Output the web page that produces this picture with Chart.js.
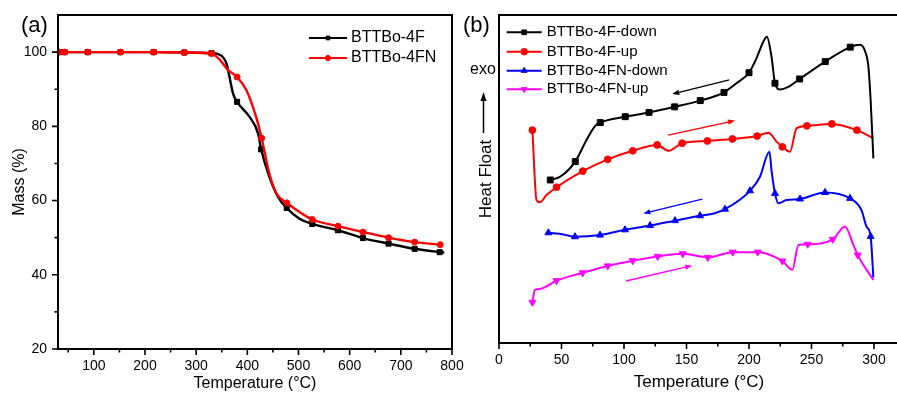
<!DOCTYPE html>
<html>
<head>
<meta charset="utf-8">
<script src="https://cdn.jsdelivr.net/npm/chart.js"></script>
<style>
  html, body { margin: 0; padding: 0; background: #fff; overflow: hidden; width: 897px; height: 394px; }
  canvas { position: absolute; top: 0; }
  #tga { left: 0; }
  #dsc { left: 440px; }
</style>
</head>
<body>
<canvas id="tga" width="470" height="394"></canvas>
<canvas id="dsc" width="460" height="394"></canvas>
<script>
// (a) TGA, mass (%) against temperature (°C); dots = 1 where a marker is drawn
const tgaTemp4F = [33, 43, 88, 152, 217, 277, 330, 346, 359, 365, 372, 380, 404, 421, 427, 443, 460, 477, 502, 527, 577, 626, 676, 727, 776, 785];
const tgaMass4F = [100, 100, 100, 100, 100, 99.9, 99.7, 99.3, 97.0, 93.4, 88.9, 86.6, 82.6, 78.1, 73.8, 66.4, 61.0, 58.0, 55.1, 53.7, 52.0, 49.9, 48.4, 47.0, 46.1, 46.0];
const tgaDots4F = [1, 1, 1, 1, 1, 1, 1, 0, 0, 0, 0, 1, 0, 0, 1, 0, 0, 1, 0, 1, 1, 1, 1, 1, 1, 0];

const tgaTemp4FN = [33, 43, 88, 152, 217, 277, 330, 346, 362, 380, 398, 417, 428, 443, 457, 477, 502, 527, 577, 626, 676, 727, 777];
const tgaMass4FN = [100, 100, 100, 100, 100, 99.9, 99.6, 98.0, 95.2, 93.3, 89.8, 82.6, 76.8, 67.3, 61.9, 59.4, 56.9, 54.9, 53.1, 51.5, 50.0, 48.8, 48.1];
const tgaDots4FN = [1, 1, 1, 1, 1, 1, 1, 0, 0, 1, 0, 0, 1, 0, 0, 1, 0, 1, 1, 1, 1, 1, 1];

const tgaXMajor = [100, 200, 300, 400, 500, 600, 700, 800];
const tgaXMinor = [50, 150, 250, 350, 450, 550, 650, 750];
const tgaYMajor = [20, 40, 60, 80, 100];
const tgaYMinor = [30, 50, 70, 90];

// (b) DSC, heat flow in arbitrary units against temperature (°C)
const dscTemp4FDown = [41, 49, 61, 70, 77, 81, 101, 120, 140.5, 161, 180, 190, 200, 206, 211.5, 214.3, 218, 220.8, 225, 231, 240.5, 261, 281, 289, 293, 295.5, 297.3, 299.5];
const dscHeat4FDown = [49.7, 50.7, 55.3, 61.9, 66.2, 67.2, 69.0, 70.3, 72.0, 73.9, 76.4, 79.2, 82.4, 86.8, 91.9, 93.4, 87.3, 79.2, 77.3, 78.0, 80.5, 85.8, 90.2, 90.9, 88.8, 84.3, 74.1, 56.3];
const dscDots4FDown = [1, 0, 1, 0, 0, 1, 1, 1, 1, 1, 1, 0, 1, 0, 0, 0, 0, 1, 0, 0, 1, 1, 1, 0, 0, 0, 0, 0];

const dscTemp4FUp = [26.7, 30, 32.8, 38, 46, 67, 87, 107, 126.5, 135.6, 146.5, 166.7, 186.7, 206.5, 215.5, 222, 226.7, 232.8, 238.1, 246.3, 266.3, 286.3, 299.5];
const dscHeat4FUp = [64.9, 43.6, 42.9, 45.1, 47.5, 52.4, 56.0, 58.6, 60.4, 58.6, 60.9, 61.6, 62.2, 63.1, 64.1, 61.4, 59.8, 58.3, 65.5, 66.2, 66.8, 64.9, 62.4];
const dscDots4FUp = [1, 0, 0, 0, 1, 1, 1, 1, 1, 0, 1, 1, 1, 1, 0, 0, 1, 0, 0, 1, 1, 1, 0];

const dscTemp4FNDown = [39.5, 51.5, 60.8, 80.8, 100.8, 120.8, 140.8, 160.8, 172, 180.8, 200.8, 208.8, 216.3, 218.2, 220.8, 223.5, 230, 240.8, 260.8, 280.8, 290, 294, 297.3, 299.5];
const dscHeat4FNDown = [33.6, 33.1, 32.4, 32.9, 34.5, 35.8, 37.3, 38.8, 39.5, 40.8, 46.4, 50.7, 58.3, 52.0, 45.6, 42.6, 43.6, 43.9, 45.9, 44.1, 40.5, 35.5, 32.5, 20];
const dscDots4FNDown = [1, 0, 1, 1, 1, 1, 1, 1, 0, 1, 1, 0, 0, 0, 1, 0, 0, 1, 1, 1, 0, 0, 1, 0];

const dscTemp4FNUp = [26.7, 28.8, 32.8, 46, 67, 87, 107, 127, 147, 167, 187, 207, 226.7, 234.7, 239.5, 247, 267, 276.8, 283.5, 287, 299.5];
const dscHeat4FNUp = [12.4, 16.2, 16.5, 19.0, 21.4, 23.5, 25.1, 26.4, 27.2, 26.1, 27.7, 27.7, 25.0, 22.3, 29.9, 30.1, 31.6, 35.5, 29.9, 26.8, 19.2];
const dscDotsFNUp = [1, 0, 0, 1, 1, 1, 1, 1, 1, 1, 1, 1, 1, 0, 0, 1, 1, 0, 0, 1, 0];

const dscXMajor = [0, 50, 100, 150, 200, 250, 300];
const dscXMinor = [25, 75, 125, 175, 225, 275];

// scan direction arrows [fromT, fromH, toT, toH], one per series
const dscArrows = [[184.2, 80.2, 138.6, 75.9], [135.4, 63.4, 188.8, 67.8], [162.6, 43.9, 115.4, 39.5], [101.6, 18.9, 154.6, 23.6]];

const FONT = '"Liberation Sans", Arial, sans-serif';

function series(label, xs, ys, dots, color, style, r, rot, order, w) {
  return {
    label: label,
    data: xs.map((x, i) => ({ x: x, y: ys[i] })),
    borderColor: color,
    backgroundColor: color,
    borderWidth: w,
    pointStyle: style,
    pointRotation: rot,
    pointRadius: dots.map(d => d ? r : 0),
    pointHoverRadius: 0,
    pointBorderWidth: 1,
    cubicInterpolationMode: 'monotone',
    fill: false,
    order: order
  };
}

function arrow(ctx, x1, y1, x2, y2, color, w, head, half) {
  const a = Math.atan2(y2 - y1, x2 - x1);
  const bx = x2 - Math.cos(a) * head, by = y2 - Math.sin(a) * head;
  ctx.strokeStyle = color; ctx.fillStyle = color; ctx.lineWidth = w;
  ctx.beginPath(); ctx.moveTo(x1, y1); ctx.lineTo(bx, by); ctx.stroke();
  ctx.beginPath(); ctx.moveTo(x2, y2);
  ctx.lineTo(bx + Math.sin(a) * half, by - Math.cos(a) * half);
  ctx.lineTo(bx - Math.sin(a) * half, by + Math.cos(a) * half);
  ctx.closePath(); ctx.fill();
}

// box, outward major/minor ticks, legend
function framePlugin(minorX, minorY, legend) {
  return {
    id: 'frame',
    afterDatasetsDraw(chart) {
      const { ctx, chartArea: a, scales: { x, y } } = chart;
      ctx.save();
      ctx.strokeStyle = '#000';
      ctx.lineWidth = 2;
      ctx.strokeRect(a.left, a.top, a.right - a.left, a.bottom - a.top);
      ctx.lineWidth = 1.6;
      ctx.beginPath();
      x.ticks.forEach(t => { const p = x.getPixelForValue(t.value); ctx.moveTo(p, a.bottom); ctx.lineTo(p, a.bottom + 6); });
      minorX.forEach(v => { const p = x.getPixelForValue(v); ctx.moveTo(p, a.bottom); ctx.lineTo(p, a.bottom + 3.5); });
      if (minorY) {
        y.ticks.forEach(t => { const p = y.getPixelForValue(t.value); ctx.moveTo(a.left, p); ctx.lineTo(a.left - 6, p); });
        minorY.forEach(v => { const p = y.getPixelForValue(v); ctx.moveTo(a.left, p); ctx.lineTo(a.left - 3.5, p); });
      }
      ctx.stroke();

      chart.data.datasets.forEach((ds, i) => {
        const yy = legend.rows[i];
        ctx.strokeStyle = ds.borderColor; ctx.lineWidth = 2;
        ctx.beginPath(); ctx.moveTo(legend.x0, yy); ctx.lineTo(legend.x1, yy); ctx.stroke();
        ctx.fillStyle = ds.borderColor; ctx.lineWidth = 1;
        Chart.helpers.drawPoint(ctx, { pointStyle: ds.pointStyle, radius: legend.r, rotation: ds.pointRotation, borderWidth: 1 }, (legend.x0 + legend.x1) / 2, yy);
        ctx.fillStyle = '#000';
        ctx.font = legend.font;
        ctx.textBaseline = 'middle';
        ctx.textAlign = 'left';
        ctx.fillText(ds.label, legend.tx, yy);
      });
      ctx.font = '22px ' + FONT;
      ctx.fillText(legend.panel, legend.px, 26);
      ctx.restore();
    }
  };
}

const dscExtras = {
  id: 'dscExtras',
  afterDatasetsDraw(chart) {
    const { ctx, scales: { x, y } } = chart;
    ctx.save();
    dscArrows.forEach((a, i) => {
      arrow(ctx, x.getPixelForValue(a[0]), y.getPixelForValue(a[1]), x.getPixelForValue(a[2]), y.getPixelForValue(a[3]),
        chart.data.datasets[i].borderColor, 1.3, 7, 2.6);
    });
    arrow(ctx, 43.5, 133, 43.5, 92, '#000', 1.5, 9, 3);
    ctx.fillStyle = '#000';
    ctx.font = '16px ' + FONT;
    ctx.textBaseline = 'middle';
    ctx.fillText('exo', 30, 70);
    ctx.restore();
  }
};

function xAxis(min, max, major, height, titleSize, titlePad) {
  return {
    type: 'linear', min: min, max: max,
    afterBuildTicks: s => { s.ticks = major.map(v => ({ value: v })); },
    afterFit: s => { s.height = height; s.paddingLeft = 0; s.paddingRight = 0; },
    grid: { display: false, drawTicks: false },
    border: { display: false },
    ticks: { color: '#000', font: { family: FONT, size: 14 }, padding: 9, maxRotation: 0, autoSkip: false },
    title: { display: true, text: 'Temperature (°C)', color: '#000', font: { family: FONT, size: titleSize }, padding: { top: 0, bottom: titlePad } }
  };
}

new Chart(document.getElementById('tga'), {
  type: 'line',
  data: {
    datasets: [
      series('BTTBo-4F', tgaTemp4F, tgaMass4F, tgaDots4F, '#000000', 'rect', 3.6, 0, 1, 2.4),
      series('BTTBo-4FN', tgaTemp4FN, tgaMass4FN, tgaDots4FN, '#ff0000', 'circle', 3, 0, 0, 2.4)
    ]
  },
  options: {
    responsive: false, animation: false, events: [],
    layout: { autoPadding: false, padding: { top: 15, right: 18, bottom: 0, left: 0 } },
    plugins: { legend: { display: false }, tooltip: { enabled: false } },
    scales: {
      x: xAxis(30, 800, tgaXMajor, 45, 16, 1),
      y: {
        min: 20, max: 110,
        afterBuildTicks: s => { s.ticks = tgaYMajor.map(v => ({ value: v })); },
        afterFit: s => { s.width = 58; s.paddingTop = 0; s.paddingBottom = 0; },
        grid: { display: false, drawTicks: false },
        border: { display: false },
        ticks: { color: '#000', font: { family: FONT, size: 14 }, padding: 11 },
        title: { display: true, text: 'Mass (%)', color: '#000', font: { family: FONT, size: 16 }, padding: { top: 10, bottom: 0 } }
      }
    }
  },
  plugins: [framePlugin(tgaXMinor, tgaYMinor, { rows: [38, 58], x0: 309, x1: 347, tx: 351, r: 2.6, font: '16px ' + FONT, panel: '(a)', px: 21 })]
});

new Chart(document.getElementById('dsc'), {
  type: 'line',
  data: {
    datasets: [
      series('BTTBo-4F-down', dscTemp4FDown, dscHeat4FDown, dscDots4FDown, '#000000', 'rect', 4.2, 0, 0, 2),
      series('BTTBo-4F-up', dscTemp4FUp, dscHeat4FUp, dscDots4FUp, '#ff0000', 'circle', 3.4, 0, 1, 2),
      series('BTTBo-4FN-down', dscTemp4FNDown, dscHeat4FNDown, dscDots4FNDown, '#0000ff', 'triangle', 4, 0, 2, 2),
      series('BTTBo-4FN-up', dscTemp4FNUp, dscHeat4FNUp, dscDotsFNUp, '#ff00ff', 'triangle', 4, 180, 3, 2)
    ]
  },
  options: {
    responsive: false, animation: false, events: [],
    layout: { autoPadding: false, padding: { top: 15, right: 1, bottom: 0, left: 0 } },
    plugins: { legend: { display: false }, tooltip: { enabled: false } },
    scales: {
      x: xAxis(0, 320, dscXMajor, 51, 17, 1.5),
      y: {
        min: 0, max: 100,
        afterFit: s => { s.width = 59; s.paddingTop = 0; s.paddingBottom = 0; },
        grid: { display: false, drawTicks: false },
        border: { display: false },
        ticks: { display: false },
        title: { display: true, text: 'Heat Float', color: '#000', font: { family: FONT, size: 17 }, padding: { top: 36, bottom: 0 } }
      }
    }
  },
  plugins: [framePlugin(dscXMinor, null, { rows: [32.3, 51.7, 70.7, 89.3], x0: 66.7, x1: 101.7, tx: 106.7, r: 3.3, font: '15px ' + FONT, panel: '(b)', px: 23 }), dscExtras]
});
</script>
</body>
</html>
